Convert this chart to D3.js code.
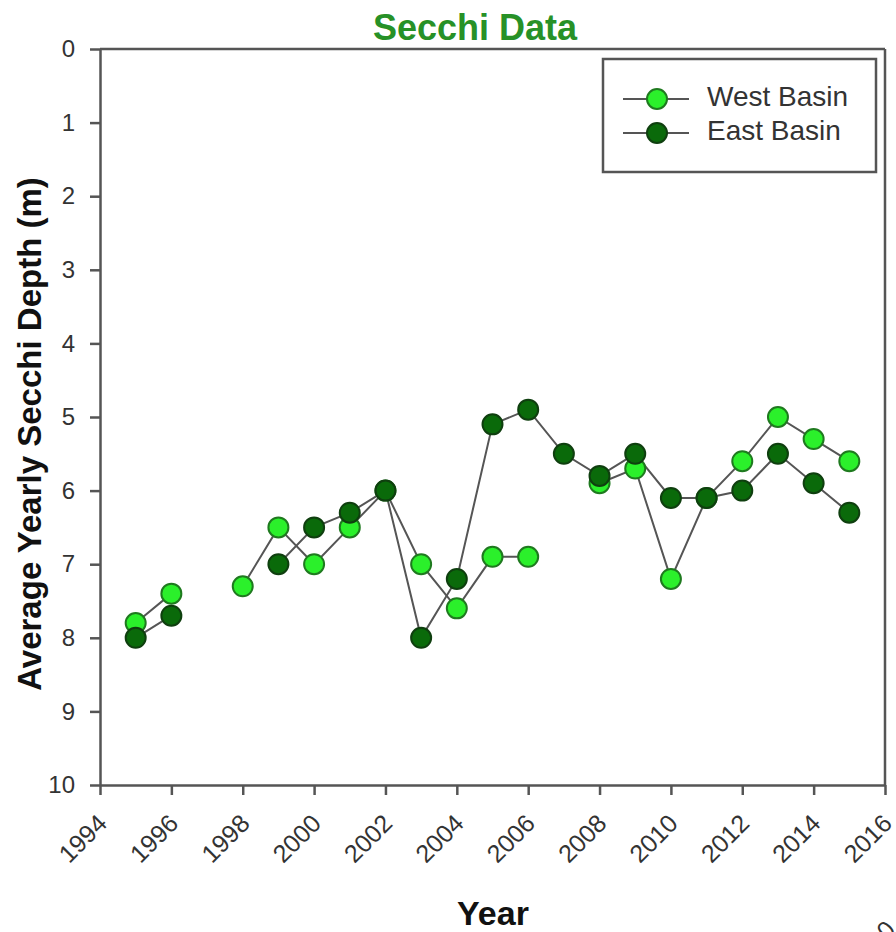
<!DOCTYPE html>
<html>
<head>
<meta charset="utf-8">
<script src="https://cdn.jsdelivr.net/npm/d3@7/dist/d3.min.js"></script>
<style>
  html, body { margin: 0; padding: 0; background: #fff; }
  svg { display: block; font-family: "Liberation Sans", Arial, sans-serif; }
</style>
</head>
<body>
<svg id="chart" width="896" height="932"></svg>
<script>
// Average yearly Secchi depth (m); null marks a year with no sample
const years     = [1995, 1996, 1997, 1998, 1999, 2000, 2001, 2002, 2003, 2004, 2005,
                   2006, 2007, 2008, 2009, 2010, 2011, 2012, 2013, 2014, 2015];
const westBasin = [7.8, 7.4, null, 7.3, 6.5, 7.0, 6.5, 6.0, 7.0, 7.6, 6.9,
                   6.9, null, 5.9, 5.7, 7.2, 6.1, 5.6, 5.0, 5.3, 5.6];
const eastBasin = [8.0, 7.7, null, null, 7.0, 6.5, 6.3, 6.0, 8.0, 7.2, 5.1,
                   4.9, 5.5, 5.8, 5.5, 6.1, 6.1, 6.0, 5.5, 5.9, 6.3];
const seriesNames = ["West Basin", "East Basin"];
const xTicks = [1994, 1996, 1998, 2000, 2002, 2004, 2006, 2008, 2010, 2012, 2014, 2016];
const yTicks = [0, 1, 2, 3, 4, 5, 6, 7, 8, 9, 10];

const svg = d3.select("#chart");
const FONT = '"Liberation Sans", Arial, sans-serif';
const margin = { left: 100, top: 49, right: 11, bottom: 147 };
const W = 896, H = 932;
const axisColor = "#555";
const fills = ["#2bf02b", "#0a6a0a"];
const strokes = ["#1f7a1f", "#0f3f0f"];

const x = d3.scaleLinear().domain([1994, 2016]).range([margin.left, W - margin.right]);
const y = d3.scaleLinear().domain([0, 10]).range([margin.top, H - margin.bottom]);

// Title
svg.append("text")
  .attr("x", 475).attr("y", 40)
  .attr("text-anchor", "middle")
  .attr("font-size", 36).attr("font-weight", "bold")
  .attr("fill", "#279127")
  .text("Secchi Data");

// Frame: top and right edges
svg.append("line")
  .attr("x1", x(1994)).attr("x2", x(2016))
  .attr("y1", y(0)).attr("y2", y(0))
  .attr("stroke", axisColor).attr("stroke-width", 2.5);
svg.append("line")
  .attr("x1", x(2016)).attr("x2", x(2016))
  .attr("y1", y(0)).attr("y2", y(10))
  .attr("stroke", axisColor).attr("stroke-width", 2.5);

// X axis
const xAxis = svg.append("g")
  .attr("transform", `translate(0,${y(10)})`)
  .call(d3.axisBottom(x).tickValues(xTicks).tickFormat(d3.format("d")).tickSize(10).tickSizeOuter(0));
xAxis.select(".domain").attr("stroke", axisColor).attr("stroke-width", 2.5);
xAxis.selectAll(".tick line").attr("stroke", axisColor).attr("stroke-width", 2.5);
xAxis.selectAll(".tick text")
  .attr("font-family", FONT)
  .attr("font-size", 25).attr("fill", "#333")
  .attr("text-anchor", "end")
  .attr("x", 0).attr("y", 0).attr("dy", 0)
  .attr("transform", "translate(8,40) rotate(-45)");

// Y axis
const yAxis = svg.append("g")
  .attr("transform", `translate(${x(1994)},0)`)
  .call(d3.axisLeft(y).tickValues(yTicks).tickSize(10).tickPadding(15).tickSizeOuter(0));
yAxis.select(".domain").attr("stroke", axisColor).attr("stroke-width", 2.5);
yAxis.selectAll(".tick line").attr("stroke", axisColor).attr("stroke-width", 2.5);
yAxis.selectAll(".tick text")
  .attr("font-family", FONT)
  .attr("font-size", 24).attr("fill", "#333");

// Axis titles
svg.append("text")
  .attr("x", 493).attr("y", 925)
  .attr("text-anchor", "middle")
  .attr("font-size", 34).attr("font-weight", "bold").attr("fill", "#111")
  .text("Year");
svg.append("text")
  .attr("transform", "translate(41,434) rotate(-90)")
  .attr("text-anchor", "middle")
  .attr("font-size", 33).attr("font-weight", "bold").attr("fill", "#111")
  .text("Average Yearly Secchi Depth (m)");

// Page mark at the lower-right corner
svg.append("text")
  .attr("transform", "translate(887,941) rotate(-45)")
  .attr("font-size", 25).attr("fill", "#333")
  .text("0");

// Series: lines (broken at missing years) then markers
const seriesData = [westBasin, eastBasin].map(vals =>
  years.map((yr, i) => ({ year: yr, value: vals[i] })));

const line = d3.line()
  .defined(d => d.value !== null)
  .x(d => x(d.year))
  .y(d => y(d.value));

seriesData.forEach((data) => {
  svg.append("path")
    .datum(data)
    .attr("fill", "none")
    .attr("stroke", "#555")
    .attr("stroke-width", 2)
    .attr("d", line);
});

seriesData.forEach((data, s) => {
  svg.append("g").selectAll("circle")
    .data(data.filter(d => d.value !== null))
    .join("circle")
    .attr("cx", d => x(d.year))
    .attr("cy", d => y(d.value))
    .attr("r", 10)
    .attr("fill", fills[s])
    .attr("stroke", strokes[s])
    .attr("stroke-width", 2);
});

// Legend
const legend = svg.append("g");
legend.append("rect")
  .attr("x", 603).attr("y", 59).attr("width", 273).attr("height", 113)
  .attr("fill", "#fff").attr("stroke", axisColor).attr("stroke-width", 2.5);
seriesNames.forEach((name, s) => {
  const ly = 99 + s * 34;
  legend.append("line")
    .attr("x1", 623).attr("x2", 689).attr("y1", ly).attr("y2", ly)
    .attr("stroke", "#555").attr("stroke-width", 2);
  legend.append("circle")
    .attr("cx", 657).attr("cy", ly).attr("r", 10)
    .attr("fill", fills[s]).attr("stroke", strokes[s]).attr("stroke-width", 2);
  legend.append("text")
    .attr("x", 707).attr("y", ly + 7)
    .attr("font-size", 28).attr("fill", "#333")
    .text(name);
});
</script>
</body>
</html>
